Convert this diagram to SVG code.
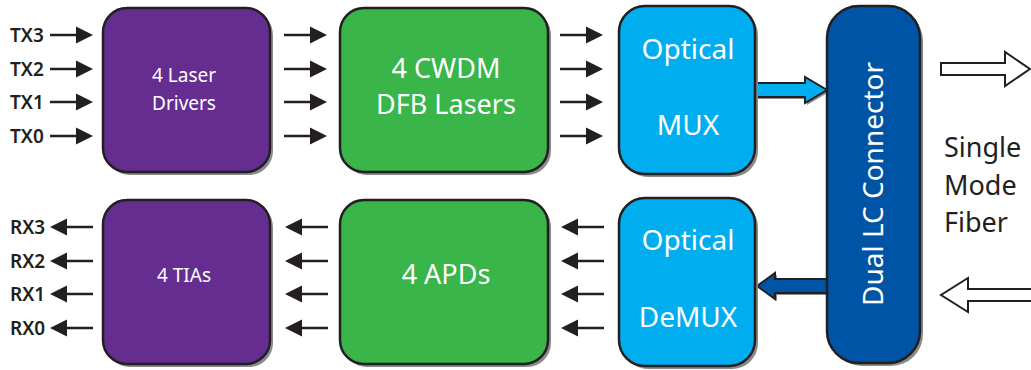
<svg xmlns="http://www.w3.org/2000/svg" xmlns:xlink="http://www.w3.org/1999/xlink" width="1031" height="370" viewBox="0 0 1031 370">
<style>
.box{stroke:#231F20;stroke-width:2.5}
.sh{fill:#8a8a8a}
.purple{fill:#662D91}
.green{fill:#39B54A}
.cyan{fill:#00AEEF}
.navy{fill:#0054A6}
.wt{fill:#fff;font-family:"Noto Sans","Open Sans",sans-serif;text-anchor:middle}
.lbl{fill:#231F20;font-family:"Noto Sans","Open Sans",sans-serif;font-size:19px;font-weight:600}
.big{fill:#231F20;font-family:"Noto Sans","Open Sans",sans-serif;font-size:27px}
.ln{stroke:#231F20;stroke-width:2.5;fill:none}
.hd{fill:#231F20}
</style>
<defs>
<g id="ar"><line class="ln" x1="0" y1="0" x2="28" y2="0"/><polygon class="hd" points="26,-8.5 43,0 26,8.5"/></g>
<g id="al"><line class="ln" x1="15" y1="0" x2="43" y2="0"/><polygon class="hd" points="17,-8.5 0,0 17,8.5"/></g>
</defs>
<g id="connectors">
<use xlink:href="#ar" x="50" y="35"/><use xlink:href="#ar" x="50" y="69"/><use xlink:href="#ar" x="50" y="102"/><use xlink:href="#ar" x="50" y="136"/>
<use xlink:href="#ar" x="284" y="35"/><use xlink:href="#ar" x="284" y="69"/><use xlink:href="#ar" x="284" y="102"/><use xlink:href="#ar" x="284" y="136"/>
<use xlink:href="#ar" x="560" y="35"/><use xlink:href="#ar" x="560" y="69"/><use xlink:href="#ar" x="560" y="102"/><use xlink:href="#ar" x="560" y="136"/>
<use xlink:href="#al" x="50" y="227"/><use xlink:href="#al" x="50" y="261"/><use xlink:href="#al" x="50" y="294"/><use xlink:href="#al" x="50" y="328"/>
<use xlink:href="#al" x="285" y="227"/><use xlink:href="#al" x="285" y="261"/><use xlink:href="#al" x="285" y="294"/><use xlink:href="#al" x="285" y="328"/>
<use xlink:href="#al" x="561" y="227"/><use xlink:href="#al" x="561" y="261"/><use xlink:href="#al" x="561" y="294"/><use xlink:href="#al" x="561" y="328"/>
<polygon class="sh" points="757,85 807,85 807,79 829,92 807,105 807,99 757,99"/>
<polygon class="cyan" stroke="#231F20" stroke-width="2" points="755,83 805,83 805,77 827,90 805,103 805,97 755,97"/>
<polygon class="sh" points="829,281 777,281 777,275 759,288 777,301 777,295 829,295"/>
<polygon class="navy" stroke="#231F20" stroke-width="2" points="827,279 775,279 775,273 757,286 775,299 775,293 827,293"/>
<polygon fill="#fff" stroke="#231F20" stroke-width="2" points="941,63 1005,63 1005,52 1030,69 1005,86 1005,75 941,75"/>
<polygon fill="#fff" stroke="#231F20" stroke-width="2" points="1032,289 968,289 968,278 941,295 968,312 968,301 1032,301"/>
</g>
<g id="tx-labels">
<text class="lbl" x="10" y="42">TX3</text>
<text class="lbl" x="10" y="76">TX2</text>
<text class="lbl" x="10" y="109">TX1</text>
<text class="lbl" x="10" y="143">TX0</text>
</g>
<g id="rx-labels">
<text class="lbl" x="10" y="234">RX3</text>
<text class="lbl" x="10" y="268">RX2</text>
<text class="lbl" x="10" y="301">RX1</text>
<text class="lbl" x="10" y="335">RX0</text>
</g>
<g id="laser-drivers">
<rect class="sh" x="106" y="11" width="167" height="164" rx="24"/>
<rect class="box purple" x="103" y="8" width="167" height="164" rx="24"/>
<text class="wt" x="184" y="82" font-size="19">4 Laser</text>
<text class="wt" x="184" y="110" font-size="19">Drivers</text>
</g>
<g id="cwdm-lasers">
<rect class="sh" x="343" y="11" width="208" height="164" rx="24"/>
<rect class="box green" x="340" y="8" width="208" height="164" rx="24"/>
<text class="wt" x="446" y="78" font-size="27">4 CWDM</text>
<text class="wt" x="446" y="114" font-size="27">DFB Lasers</text>
</g>
<g id="optical-mux">
<rect class="sh" x="622" y="9" width="136" height="168" rx="26"/>
<rect class="box cyan" x="619" y="6" width="136" height="168" rx="26"/>
<text class="wt" x="688" y="59" font-size="28">Optical</text>
<text class="wt" x="688" y="135" font-size="28">MUX</text>
</g>
<g id="tias">
<rect class="sh" x="106" y="203" width="167" height="164" rx="24"/>
<rect class="box purple" x="103" y="200" width="167" height="164" rx="24"/>
<text class="wt" x="184" y="282" font-size="19">4 TIAs</text>
</g>
<g id="apds">
<rect class="sh" x="343" y="203" width="208" height="164" rx="24"/>
<rect class="box green" x="340" y="200" width="208" height="164" rx="24"/>
<text class="wt" x="446" y="284" font-size="27">4 APDs</text>
</g>
<g id="optical-demux">
<rect class="sh" x="622" y="201" width="136" height="168" rx="26"/>
<rect class="box cyan" x="619" y="198" width="136" height="168" rx="26"/>
<text class="wt" x="688" y="250" font-size="28">Optical</text>
<text class="wt" x="688" y="327" font-size="28">DeMUX</text>
</g>
<g id="dual-lc-connector">
<rect class="sh" x="830" y="9" width="93" height="357" rx="32"/>
<rect class="box navy" x="827" y="6" width="93" height="357" rx="32"/>
<text class="wt" font-size="28" transform="translate(883,184) rotate(-90)">Dual LC Connector</text>
</g>
<g id="fiber-label">
<text class="big" x="944" y="157">Single</text>
<text class="big" x="944" y="195">Mode</text>
<text class="big" x="944" y="232">Fiber</text>
</g>
</svg>
